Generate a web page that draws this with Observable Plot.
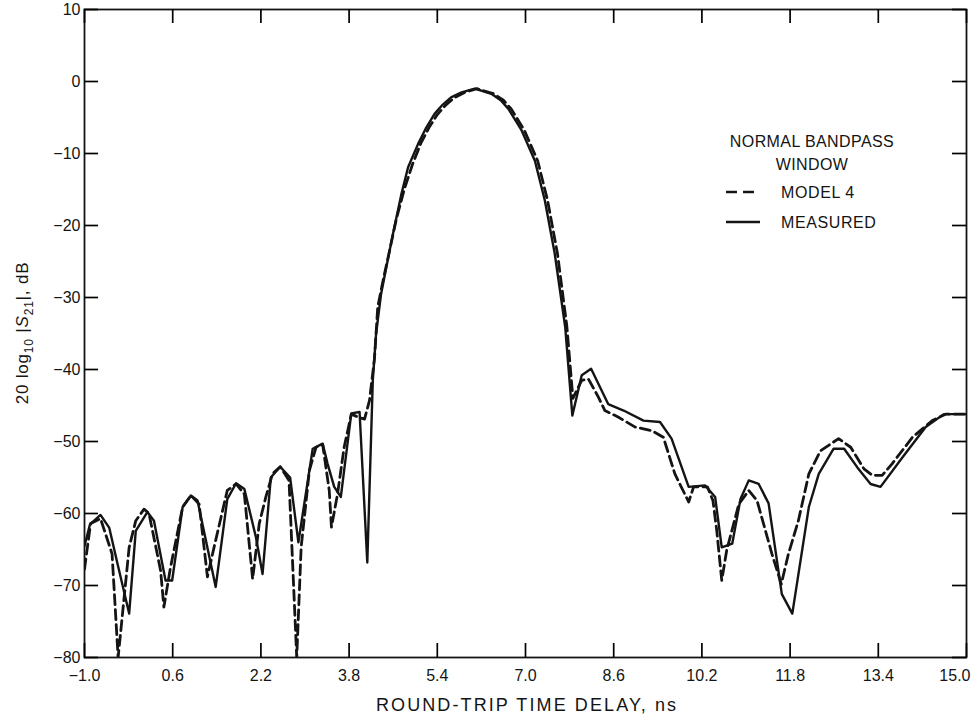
<!DOCTYPE html>
<html><head><meta charset="utf-8">
<script src="https://cdn.jsdelivr.net/npm/d3@7"></script>
<script src="https://cdn.jsdelivr.net/npm/@observablehq/plot@0.6"></script>
<style>
body{margin:0;background:#fff}
svg{font-family:"Liberation Sans",Arial,Helvetica,sans-serif}
</style>
</head><body><div id="chart"></div>
<script>
// Round-trip time delay (ns) and 20 log10 |S21| (dB)
const measuredX = [-1.0,-0.9,-0.71,-0.55,-0.4,-0.19,-0.07,0.14,0.26,0.47,0.59,0.78,0.93,1.05,1.38,1.59,1.75,1.9,2.11,2.23,2.38,2.55,2.73,2.88,3.14,3.32,3.41,3.53,3.65,3.84,3.99,4.13,4.23,4.29,4.38,4.47,4.6,4.75,4.87,5.05,5.2,5.35,5.5,5.65,5.84,6.08,6.38,6.55,6.69,6.93,7.17,7.35,7.53,7.72,7.85,8.02,8.19,8.5,8.78,9.14,9.44,9.65,9.96,10.26,10.44,10.56,10.75,10.9,11.05,11.23,11.41,11.65,11.84,12.14,12.32,12.59,12.78,13.02,13.26,13.44,13.84,14.26,14.59,15.0];
const measuredY = [-64.5,-61.5,-60.2,-62,-67,-73.9,-62.4,-59.8,-61,-69.3,-69.3,-59.1,-57.5,-58.2,-70.2,-58,-55.8,-56.6,-63.3,-68.4,-55,-53.5,-55,-64,-51,-50.3,-53.1,-56.3,-57.7,-46.1,-45.9,-66.8,-41.5,-35,-29.5,-26,-21,-15.6,-11.9,-8.7,-6.4,-4.5,-3.2,-2.2,-1.5,-1.0,-1.7,-2.6,-3.8,-6.8,-11,-16.5,-23.9,-34.1,-46.4,-40.8,-39.9,-44.8,-45.7,-47.1,-47.3,-49.6,-56.3,-56.1,-57.7,-64.7,-64.2,-58,-55.4,-55.9,-58.6,-71.2,-73.9,-59.1,-54.5,-51,-51,-53.6,-55.9,-56.3,-52.2,-48,-46.2,-46.2];

const modelX = [-1.0,-0.89,-0.71,-0.5,-0.39,-0.19,-0.07,0.08,0.17,0.38,0.44,0.56,0.78,0.93,1.08,1.23,1.35,1.59,1.75,1.9,2.05,2.17,2.29,2.41,2.55,2.71,2.85,2.93,3.08,3.2,3.32,3.44,3.48,3.59,3.71,3.84,3.96,4.08,4.17,4.26,4.32,4.42,4.52,4.66,4.8,4.95,5.1,5.25,5.4,5.55,5.7,5.9,6.12,6.42,6.6,6.74,6.98,7.22,7.4,7.58,7.75,7.86,8.02,8.14,8.32,8.44,8.68,8.99,9.29,9.5,9.71,9.96,10.05,10.3,10.4,10.47,10.56,10.65,10.87,11.05,11.2,11.47,11.64,11.77,11.95,12.14,12.35,12.68,12.9,13.14,13.29,13.47,13.65,14.02,14.38,14.62,15.0];
const modelY = [-67.7,-61.4,-60.7,-65.6,-80,-64.7,-61,-59.4,-60,-67.9,-73,-67.5,-59.1,-57.5,-58.7,-68.8,-64.7,-56.8,-55.9,-57.3,-69.1,-61.4,-57.7,-54.5,-53.5,-55.4,-80,-64.7,-54,-50.8,-50.4,-56.8,-61.9,-57.3,-50.8,-46.2,-46.6,-46.9,-44.3,-38.5,-31.3,-27.5,-24,-19,-15,-11.5,-8.6,-6.4,-4.6,-3.3,-2.3,-1.5,-1.0,-1.7,-2.6,-3.8,-6.8,-11,-16.5,-23.9,-34,-44,-41.5,-41.3,-43.8,-45.7,-46.6,-48,-48.5,-49.4,-54.5,-58.4,-56.3,-56.3,-58.2,-62.4,-69.3,-65.1,-58.7,-56.8,-58.2,-65.6,-69.8,-65.6,-61,-54.5,-51.3,-49.6,-50.8,-53.8,-54.7,-54.7,-53.1,-49.4,-47.1,-46.2,-46.2];

const xTicks = [-1.0,0.6,2.2,3.8,5.4,7.0,8.6,10.2,11.8,13.4,15.0];
const xTickLabels = ["\u22121.0","0.6","2.2","3.8","5.4","7.0","8.6","10.2","11.8","13.4","15.0"];
const yTicks = [10,0,-10,-20,-30,-40,-50,-60,-70,-80];
const yTickLabels = ["10","0","\u221210","\u221220","\u221230","\u221240","\u221250","\u221260","\u221270","\u221280"];

const seriesNames = ["MODEL 4","MEASURED"];
const legendTitle = ["NORMAL BANDPASS","WINDOW"];
const xTitle = "ROUND-TRIP TIME DELAY, ns";

const measured = measuredX.map((x,i)=>({x, y: measuredY[i]}));
const model = modelX.map((x,i)=>({x, y: modelY[i]}));
const xFmt = d => xTickLabels[xTicks.findIndex(t => Math.abs(t-d) < 1e-9)];
const yFmt = d => yTickLabels[yTicks.indexOf(d)];
const xTicksMain = xTicks.slice(0, -1);
const xTicksLast = xTicks.slice(-1);

const W = 974, H = 717, ML = 84, MR = 8, MT = 9, MB = 60;
const FW = W - ML - MR, FH = H - MT - MB;
const xDom = [-1, 15], yDom = [-80, 10];
const ink = "#141414";
const T = 14; // inward tick length (px), expressed below in data units
const tx = T * (xDom[1] - xDom[0]) / FW;
const ty = T * (yDom[1] - yDom[0]) / FH;
const tickStyle = {stroke: "black", strokeWidth: 1.7};
const plot = Plot.plot({
  width: W, height: H,
  marginLeft: ML, marginRight: MR, marginTop: MT, marginBottom: MB,
  style: {fontFamily: '"Liberation Sans",Arial,sans-serif', fontSize: "16px", background: "#fff"},
  x: {domain: xDom},
  y: {domain: yDom},
  marks: [
    Plot.frame({stroke: ink, fill: "none", strokeWidth: 1.8}),
    Plot.axisY(yTicks, {anchor: "left", tickSize: 0, tickPadding: 4, tickFormat: yFmt, label: null, fontSize: 16, fill: ink, letterSpacing: 1}),
    Plot.axisX(xTicksMain, {anchor: "bottom", tickSize: 0, tickPadding: 12, tickFormat: xFmt, label: null, fontSize: 16, fill: ink}),
    Plot.axisX(xTicksLast, {anchor: "bottom", tickSize: 0, tickPadding: 12, tickFormat: xFmt, label: null, fontSize: 16, fill: ink, textAnchor: "end", dx: 4}),
    Plot.line(model, {x: "x", y: "y", stroke: ink, strokeWidth: 2.8, strokeDasharray: "10,5", clip: true}),
    Plot.line(measured, {x: "x", y: "y", stroke: ink, strokeWidth: 2.4, clip: true}),
    Plot.ruleY(yTicks, {y: d => d, x1: xDom[0], x2: xDom[0] + tx, ...tickStyle}),
    Plot.ruleY(yTicks, {y: d => d, x1: xDom[1] - tx, x2: xDom[1], ...tickStyle}),
    Plot.ruleX(xTicks, {x: d => d, y1: yDom[1] - ty, y2: yDom[1], ...tickStyle}),
    Plot.ruleX(xTicks, {x: d => d, y1: yDom[0], y2: yDom[0] + ty, ...tickStyle})
  ]
});

const svg = d3.select(plot);
const g = svg.append("g").attr("fill", ink).attr("text-anchor", "start")
  .style("font-family", '"Liberation Sans",Arial,sans-serif');

// x-axis title
g.append("text").attr("x", 526).attr("y", 711).attr("text-anchor", "middle")
  .attr("font-size", 18).attr("textLength", 300).attr("lengthAdjust", "spacing").text(xTitle);

// y-axis title with subscripts
const yt = g.append("text").attr("transform", "translate(28,333) rotate(-90)")
  .attr("text-anchor", "middle").attr("font-size", 17).attr("letter-spacing", 0.8);
yt.append("tspan").text("20 log");
yt.append("tspan").attr("font-size", 12).attr("dy", 5).text("10");
yt.append("tspan").attr("dy", -5).text(" |");
yt.append("tspan").attr("font-style", "italic").text("S");
yt.append("tspan").attr("font-size", 12).attr("dy", 5).text("21");
yt.append("tspan").attr("dy", -5).text("|, dB");

// legend
g.append("text").attr("x", 812).attr("y", 147).attr("text-anchor", "middle").attr("font-size", 16).attr("letter-spacing", 0.4).text(legendTitle[0]);
g.append("text").attr("x", 812).attr("y", 170).attr("text-anchor", "middle").attr("font-size", 16).attr("letter-spacing", 0.4).text(legendTitle[1]);
g.append("line").attr("x1", 726).attr("x2", 760).attr("y1", 192).attr("y2", 192)
  .attr("stroke", ink).attr("stroke-width", 2.6).attr("stroke-dasharray", "11,6");
g.append("text").attr("x", 781).attr("y", 198).attr("text-anchor", "start").attr("font-size", 16).attr("letter-spacing", 0.6).text(seriesNames[0]);
g.append("line").attr("x1", 726).attr("x2", 760).attr("y1", 222).attr("y2", 222)
  .attr("stroke", ink).attr("stroke-width", 2.3);
g.append("text").attr("x", 781).attr("y", 228).attr("text-anchor", "start").attr("font-size", 16).attr("letter-spacing", 0.6).text(seriesNames[1]);

document.getElementById("chart").appendChild(plot);
</script>
</body></html>
